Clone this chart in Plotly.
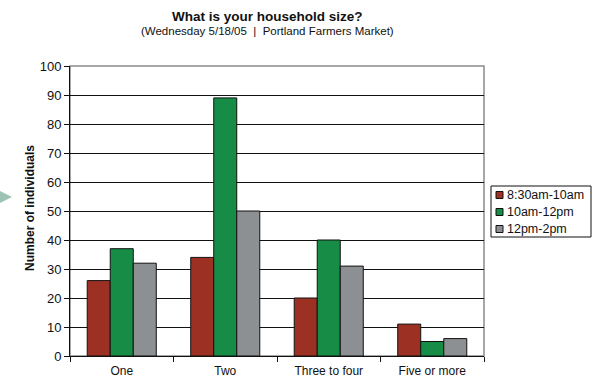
import plotly.graph_objects as go

# Household size survey counts by time slot
categories = ["One", "Two", "Three to four", "Five or more"]
slot_names = ["8:30am-10am", "10am-12pm", "12pm-2pm"]
early = [26, 34, 20, 11]
midday = [37, 89, 40, 5]
afternoon = [32, 50, 31, 6]
y_ticks = [0, 10, 20, 30, 40, 50, 60, 70, 80, 90, 100]

colors = ["#9C3123", "#178C46", "#8D9093"]
series = [early, midday, afternoon]

FONT = "Liberation Sans, Arial, sans-serif"
INK = "#111111"

fig = go.Figure()
for name, vals, col in zip(slot_names, series, colors):
    fig.add_trace(go.Bar(
        x=categories, y=vals, name=name,
        marker=dict(color=col, line=dict(color=INK, width=1)),
    ))

# plot-area geometry in pixels
W, H = 593, 380
L, R, T, B = 70, 109, 66, 24
pw, ph = W - L - R, H - T - B

def px(x):
    return (x - L) / pw

def py(y):
    return (H - B - y) / ph

shapes = [
    # grey frame on the top and right of the plot area
    dict(type="rect", xref="paper", yref="paper", x0=0, x1=1, y0=0, y1=1,
         line=dict(color="#8A8A8A", width=1.5), layer="below"),
    # small pointer arrow at the left edge
    dict(type="path", xref="paper", yref="paper",
         path=f"M {px(0)} {py(191)} L {px(12)} {py(197)} L {px(0)} {py(203)} Z",
         fillcolor="#9EC2B3", line=dict(width=0)),
    # legend box
    dict(type="rect", xref="paper", yref="paper",
         x0=px(491), x1=px(591), y0=py(186), y1=py(237),
         line=dict(color=INK, width=1), fillcolor="white"),
]

annotations = [
    dict(text="<b>What is your household size?</b>", xref="paper", yref="paper",
         x=px(267), y=py(16), xanchor="center", yanchor="middle",
         showarrow=False, font=dict(family=FONT, size=13.5, color=INK)),
    dict(text="(Wednesday 5/18/05&nbsp; |&nbsp; Portland Farmers Market)",
         xref="paper", yref="paper",
         x=px(267), y=py(31), xanchor="center", yanchor="middle",
         showarrow=False, font=dict(family=FONT, size=11.5, color=INK)),
    dict(text="<b>Number of individuals</b>", xref="paper", yref="paper",
         x=px(30), y=py(208), xanchor="center", yanchor="middle", textangle=-90,
         showarrow=False, font=dict(family=FONT, size=12, color=INK)),
]

# legend entries: colour swatch plus label
item_y = [195, 212, 229]
for name, col, yc in zip(slot_names, colors, item_y):
    shapes.append(dict(type="rect", xref="paper", yref="paper",
                       x0=px(496), x1=px(503), y0=py(yc + 3.5), y1=py(yc - 3.5),
                       fillcolor=col, line=dict(color=INK, width=1)))
    annotations.append(dict(text=name, xref="paper", yref="paper",
                            x=px(505), y=py(yc), xanchor="left", yanchor="middle",
                            showarrow=False,
                            font=dict(family=FONT, size=12.5, color=INK)))

fig.update_layout(
    width=W, height=H,
    margin=dict(l=L, r=R, t=T, b=B, pad=0, autoexpand=False),
    paper_bgcolor="white", plot_bgcolor="white",
    barmode="group", bargap=0.333, bargroupgap=0,
    font=dict(family=FONT, size=12, color=INK),
    showlegend=False,
    xaxis=dict(
        showline=True, linecolor=INK, linewidth=1, automargin=False,
        ticks="outside", tickson="boundaries", ticklen=5, tickcolor=INK,
        ticklabelstandoff=4,
        showgrid=False, tickfont=dict(size=12), fixedrange=True,
    ),
    yaxis=dict(
        range=[0, 100], tickvals=y_ticks, automargin=False,
        showline=True, linecolor=INK, linewidth=1,
        ticks="outside", ticklen=5, tickcolor=INK,
        showgrid=True, gridcolor=INK, gridwidth=1,
        zeroline=False, tickfont=dict(size=13), fixedrange=True,
    ),
    shapes=shapes,
    annotations=annotations,
)

fig.write_html("out.html")
